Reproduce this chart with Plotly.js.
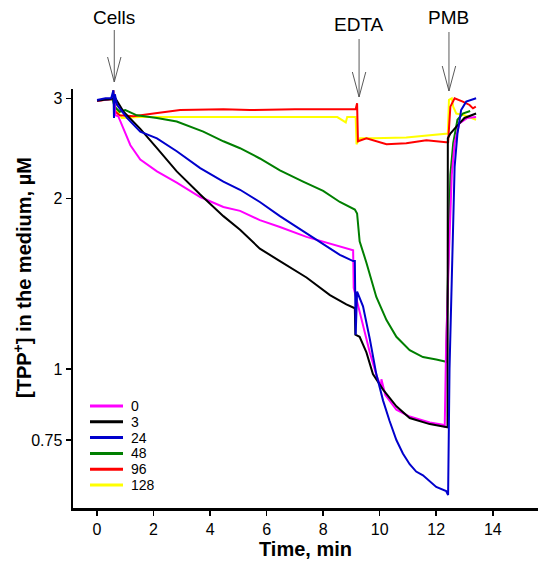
<!DOCTYPE html>
<html><head><meta charset="utf-8">
<script src="https://cdn.plot.ly/plotly-3.0.1.min.js"></script>
<style>html,body{margin:0;padding:0;background:#fff}#chart{width:550px;height:571px}</style>
</head><body><div id="chart"></div>
<script>
// Legend labels (series names)
const seriesNames = ['0', '3', '24', '48', '96', '128'];
const seriesColors = ['#FF00FF', '#000000', '#0000CC', '#007F00', '#FF0000', '#FFFF00'];

// Time (min) and [TPP+] (µM) for each series
const time0 = [0, 0.25, 0.5, 0.6, 0.65, 0.75, 0.94, 1.18, 1.53, 2.12, 2.82, 3.65, 4.47, 5.06, 5.76, 6.47, 7.41, 8.12, 9.0, 9.06, 9.08, 9.29, 9.65, 9.9, 10.05, 10.06, 10.2, 10.59, 11.06, 11.77, 12.23, 12.3, 12.35, 12.45, 12.55, 12.65, 12.82, 13.1, 13.41];
const conc0 = [2.97, 2.98, 2.99, 3.05, 2.80, 2.79, 2.65, 2.48, 2.34, 2.23, 2.13, 2.01, 1.93, 1.90, 1.83, 1.78, 1.71, 1.67, 1.62, 1.62, 1.39, 1.26, 1.07, 0.97, 0.93, 0.96, 0.90, 0.848, 0.825, 0.805, 0.798, 0.79, 1.1, 1.6, 2.2, 2.5, 2.71, 2.77, 2.78];

const time3 = [0, 0.3, 0.55, 0.65, 0.94, 1.53, 2.12, 2.82, 3.65, 4.47, 5.06, 5.76, 6.47, 7.41, 8.24, 8.82, 9.12, 9.14, 9.29, 9.53, 9.76, 10.12, 10.59, 11.06, 11.77, 12.35, 12.4, 12.41, 12.5, 12.76, 13.0, 13.41];
const conc3 = [2.97, 2.98, 2.99, 3.0, 2.84, 2.65, 2.45, 2.23, 2.03, 1.86, 1.76, 1.63, 1.55, 1.45, 1.35, 1.30, 1.28, 1.15, 1.14, 1.07, 0.98, 0.92, 0.86, 0.82, 0.80, 0.79, 0.79, 2.55, 2.60, 2.69, 2.77, 2.82];

const time24 = [0, 0.3, 0.5, 0.58, 0.6, 0.63, 0.71, 1.06, 1.53, 2.12, 2.82, 3.65, 4.47, 5.06, 5.76, 6.47, 7.29, 8.0, 8.59, 9.06, 9.12, 9.15, 9.2, 9.41, 9.65, 9.88, 10.12, 10.35, 10.59, 10.82, 11.06, 11.29, 11.53, 12.0, 12.35, 12.42, 12.47, 12.55, 12.59, 12.65, 12.75, 12.88, 13.06, 13.41];
const conc24 = [2.98, 3.0, 3.0, 3.1, 2.77, 3.05, 2.92, 2.77, 2.62, 2.55, 2.42, 2.26, 2.14, 2.07, 1.97, 1.86, 1.75, 1.66, 1.59, 1.55, 1.55, 1.15, 1.37, 1.29, 1.13, 0.98, 0.88, 0.81, 0.75, 0.71, 0.68, 0.66, 0.65, 0.62, 0.61, 0.60, 1.0, 1.44, 1.74, 2.27, 2.6, 2.86, 2.96, 3.0];

const time48 = [0, 0.3, 0.55, 0.62, 0.8, 1.0, 1.41, 2.12, 2.82, 3.76, 4.47, 5.06, 5.76, 6.47, 7.29, 8.0, 8.59, 9.12, 9.2, 9.29, 9.53, 9.88, 10.24, 10.59, 11.06, 11.53, 12.0, 12.35, 12.42, 12.5, 12.6, 12.75, 12.94, 13.2];
const conc48 = [2.98, 2.98, 2.99, 2.90, 2.84, 2.86, 2.80, 2.77, 2.73, 2.62, 2.52, 2.45, 2.35, 2.24, 2.14, 2.06, 1.97, 1.91, 1.88, 1.68, 1.54, 1.34, 1.22, 1.14, 1.08, 1.05, 1.04, 1.03, 1.5, 2.2, 2.5, 2.75, 2.82, 2.85];

const time96 = [0, 0.3, 0.55, 0.58, 0.62, 0.8, 1.29, 2.0, 2.94, 4.47, 5.41, 7.0, 8.5, 9.15, 9.2, 9.23, 9.53, 10.24, 10.94, 11.65, 12.35, 12.42, 12.5, 12.65, 12.94, 13.18, 13.3, 13.4];
const conc96 = [2.97, 2.98, 2.99, 3.1, 2.85, 2.80, 2.79, 2.82, 2.86, 2.87, 2.86, 2.87, 2.87, 2.87, 2.94, 2.52, 2.55, 2.49, 2.50, 2.53, 2.51, 2.51, 2.9, 3.0, 2.96, 2.92, 2.88, 2.9];

const time128 = [0, 0.3, 0.55, 0.6, 0.7, 0.88, 1.5, 3.0, 5.0, 7.0, 8.5, 8.8, 8.85, 9.15, 9.18, 9.3, 9.76, 10.94, 12.12, 12.41, 12.45, 12.55, 12.6, 12.71, 13.0, 13.41];
const conc128 = [2.97, 2.98, 2.99, 2.95, 2.85, 2.77, 2.78, 2.78, 2.78, 2.78, 2.78, 2.72, 2.78, 2.78, 2.49, 2.55, 2.55, 2.56, 2.59, 2.60, 2.98, 3.0, 2.90, 2.82, 2.80, 2.75];

const allTimes = [time0, time3, time24, time48, time96, time128];
const allConc = [conc0, conc3, conc24, conc48, conc96, conc128];

// Axis ticks and titles
const xTicks = [0, 2, 4, 6, 8, 10, 12, 14];
const yTicks = [0.75, 1, 2, 3];
const yTickText = ['0.75', '1', '2', '3'];
const xTitle = 'Time, min';
const yTitle = '[TPP<sup>+</sup>] in the medium, µM';

// Event markers
const eventLabels = ['Cells', 'EDTA', 'PMB'];
const eventTimes = [0.61, 9.27, 12.45];

const FONT = 'Arial, "Liberation Sans", sans-serif';
const drawOrder = [5, 4, 3, 0, 1, 2];
const traces = drawOrder.map(i => ({
  x: allTimes[i], y: allConc[i], name: seriesNames[i], type: 'scatter', mode: 'lines',
  line: {color: seriesColors[i], width: 2}, showlegend: false, hoverinfo: 'skip'
}));

const plotL = 73, plotR = 538, plotT = 89, plotB = 508;
const pw = plotR - plotL, ph = plotB - plotT;
const px2paperX = p => (p - plotL) / pw;
const py2paperY = p => (plotB - p) / ph;

const shapes = [];
const annotations = [];
// manual legend
seriesNames.forEach((n, i) => {
  const yy = py2paperY(406 + 15.8 * i);
  shapes.push({type: 'line', xref: 'paper', yref: 'paper', x0: px2paperX(90), x1: px2paperX(123), y0: yy, y1: yy,
    line: {color: seriesColors[i], width: 3}});
  annotations.push({xref: 'paper', yref: 'paper', x: px2paperX(129), y: yy, xanchor: 'left', yanchor: 'middle',
    text: n, showarrow: false, font: {family: FONT, size: 14, color: '#000'}});
});
// event arrows (thin line with open V head)
const tipY = [82, 97, 91];
const topY = [30, 39, 32];
const textY = [18, 25, 17.5];
const arrowStyle = {color: '#5a5a5a', width: 1};
eventLabels.forEach((lab, i) => {
  const tip = py2paperY(tipY[i]), top = py2paperY(topY[i]), arm = py2paperY(tipY[i] - 25);
  shapes.push({type: 'line', xref: 'x', xsizemode: 'pixel', xanchor: eventTimes[i], yref: 'paper',
    x0: 0, x1: 0, y0: top, y1: tip, line: arrowStyle});
  shapes.push({type: 'line', xref: 'x', xsizemode: 'pixel', xanchor: eventTimes[i], yref: 'paper',
    x0: -6.7, x1: 0, y0: arm, y1: tip, line: arrowStyle});
  shapes.push({type: 'line', xref: 'x', xsizemode: 'pixel', xanchor: eventTimes[i], yref: 'paper',
    x0: 6.7, x1: 0, y0: arm, y1: tip, line: arrowStyle});
  annotations.push({xref: 'x', yref: 'paper', x: eventTimes[i], y: py2paperY(textY[i]), text: lab,
    showarrow: false, xanchor: 'center', yanchor: 'middle', font: {family: FONT, size: 19, color: '#000'}});
});
// y-axis title (placed as in the reference, slightly above the plot centre)
annotations.push({xref: 'paper', yref: 'paper', x: px2paperX(22), y: py2paperY(278), textangle: -90,
  xanchor: 'center', yanchor: 'middle', showarrow: false, text: '<b>' + yTitle + '</b>',
  font: {family: FONT, size: 20, color: '#000'}});

const layout = {
  width: 550, height: 571,
  margin: {l: plotL, r: 550 - plotR, t: plotT, b: 571 - plotB, pad: 0},
  paper_bgcolor: '#fff', plot_bgcolor: '#fff',
  font: {family: FONT, color: '#000'},
  showlegend: false,
  xaxis: {
    range: [-0.85, 15.6], tickvals: xTicks, ticks: 'outside', ticklen: 5, tickwidth: 1.5, tickcolor: '#000',
    showline: true, linewidth: 2.5, linecolor: '#000', showgrid: false, zeroline: false,
    tickfont: {family: FONT, size: 16, color: '#000'},
    title: {text: '<b>' + xTitle + '</b>', font: {family: FONT, size: 20, color: '#000'}, standoff: 6}
  },
  yaxis: {
    type: 'log', range: [-0.2447, 0.4935], tickvals: yTicks, ticktext: yTickText,
    ticks: 'outside', ticklen: 5, tickwidth: 1.5, tickcolor: '#000',
    showline: true, linewidth: 2.5, linecolor: '#000', showgrid: false, zeroline: false,
    tickfont: {family: FONT, size: 16, color: '#000'}
  },
  shapes: shapes,
  annotations: annotations
};

Plotly.newPlot('chart', traces, layout, {displayModeBar: false, staticPlot: true});
</script>
</body></html>
